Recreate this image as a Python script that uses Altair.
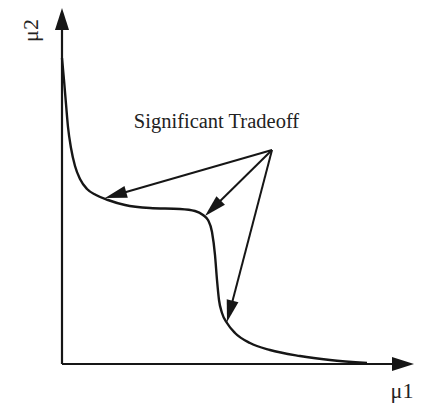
import math
import altair as alt
import pandas as pd

# ---- data (mu1 / mu2 units, origin at the axes corner) ----
curve_mu1 = [0, 2, 4, 6, 9, 13, 18, 25, 34, 46, 63, 88, 118, 133, 141,
             146, 150, 153, 155, 157, 160, 165, 173, 188, 208, 238, 268, 305]
curve_mu2 = [306, 284, 260, 237, 216, 198, 185, 175, 169, 164, 159, 156, 155,
             153, 149, 144, 132, 109, 84, 64, 51, 41, 31, 21, 14, 8, 4, 1]

arrow_origin = (210, 214)
arrow_tip_mu1 = [43, 143, 165]
arrow_tip_mu2 = [166, 148, 42]

axis_tip_mu1 = [0, 352]
axis_tip_mu2 = [356, 0]

label_text = ["Significant Tradeoff", "μ1", "μ2"]
label_mu1 = [154.5, 340, -24]
label_mu2 = [236, -34, 333.5]
label_angle = [0, 0, 270]
label_size = [20.5, 22, 22]

INK = "#161616"

W, H = 407, 395
xs = alt.Scale(domain=[-54, -54 + W], nice=False, zero=False)
ys = alt.Scale(domain=[356 - H, 356], nice=False, zero=False)


def X(f):
    return alt.X(f"{f}:Q", scale=xs, axis=None)


def Y(f):
    return alt.Y(f"{f}:Q", scale=ys, axis=None)


def angle_of(dx, dy):
    return math.degrees(math.atan2(dx, dy)) % 360


# curve
curve_df = pd.DataFrame({"x": curve_mu1, "y": curve_mu2})
curve = alt.Chart(curve_df).mark_line(
    color=INK, strokeWidth=2.4, interpolate="monotone"
).encode(x=X("x"), y=Y("y"))

# axis lines
axes_df = pd.DataFrame({
    "x": [0, 0], "y": [0, 0],
    "x2": [axis_tip_mu1[0], axis_tip_mu1[1] - 12],
    "y2": [axis_tip_mu2[0] - 12, axis_tip_mu2[1]],
})
axes = alt.Chart(axes_df).mark_rule(color=INK, strokeWidth=2.2).encode(
    x=X("x"), y=Y("y"), x2="x2:Q", y2="y2:Q"
)
axis_heads_df = pd.DataFrame({
    "x": axis_tip_mu1, "y": axis_tip_mu2,
    "a": [angle_of(0, 1), angle_of(1, 0)],
})
axis_heads = alt.Chart(axis_heads_df).mark_point(
    shape="M0,0 L-0.64,2 L0.64,2 Z", filled=True, opacity=1, color=INK,
    size=484, strokeWidth=0
).encode(x=X("x"), y=Y("y"), angle=alt.Angle("a:Q", scale=None))

# tradeoff arrows
rows = []
for tx, ty in zip(arrow_tip_mu1, arrow_tip_mu2):
    dx, dy = tx - arrow_origin[0], ty - arrow_origin[1]
    d = math.hypot(dx, dy)
    rows.append({
        "x": arrow_origin[0], "y": arrow_origin[1],
        "x2": tx - dx / d * 12, "y2": ty - dy / d * 12,
        "tx": tx, "ty": ty, "a": angle_of(dx, dy),
    })
arr_df = pd.DataFrame(rows)
arrow_lines = alt.Chart(arr_df).mark_rule(color=INK, strokeWidth=2).encode(
    x=X("x"), y=Y("y"), x2="x2:Q", y2="y2:Q"
)
arrow_heads = alt.Chart(arr_df).mark_point(
    shape="M0,0 L-0.55,2 L0.55,2 Z", filled=True, opacity=1, color=INK,
    size=484, strokeWidth=0
).encode(x=X("tx"), y=Y("ty"), angle=alt.Angle("a:Q", scale=None))

# labels
lab_df = pd.DataFrame({"t": label_text, "x": label_mu1, "y": label_mu2,
                       "a": label_angle, "s": label_size})
labels = alt.Chart(lab_df).mark_text(
    font="Liberation Serif", color="#222222", align="center", baseline="alphabetic"
).encode(
    x=X("x"), y=Y("y"), text="t:N",
    angle=alt.Angle("a:Q", scale=None),
    size=alt.Size("s:Q", scale=None),
)

chart = alt.layer(axes, axis_heads, curve, arrow_lines, arrow_heads, labels).properties(
    width=W, height=H, padding=0, autosize=alt.AutoSizeParams(type="none"),
    background="white",
).configure_view(strokeWidth=0)

chart.save("out.html", embed_options={"renderer": "svg", "actions": False})
